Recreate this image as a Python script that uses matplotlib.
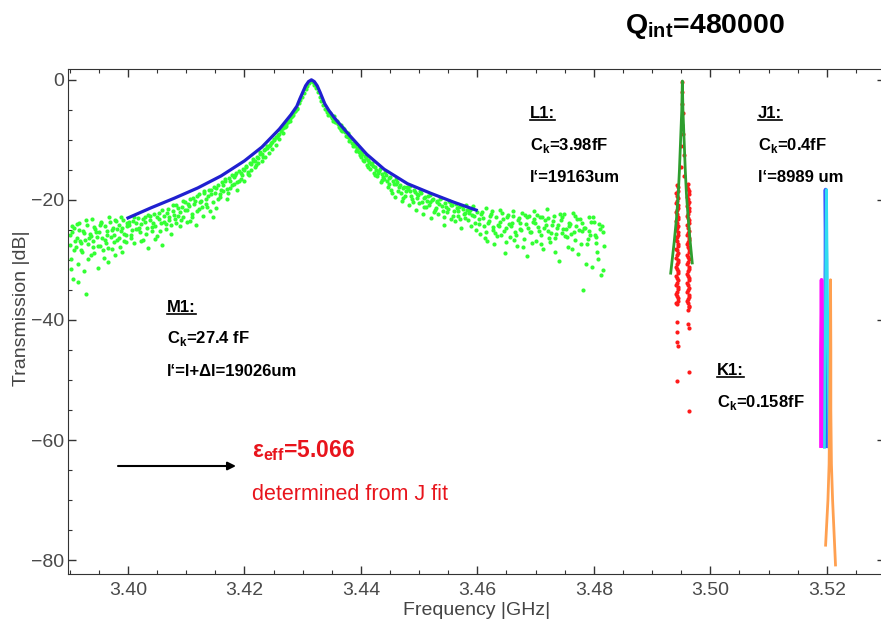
import numpy as np
import matplotlib.pyplot as plt
from matplotlib.lines import Line2D

plt.rcParams["font.family"] = ["Liberation Sans", "DejaVu Sans"]
plt.rcParams["mathtext.fontset"] = "custom"
plt.rcParams["mathtext.rm"] = "Liberation Sans"
plt.rcParams["mathtext.bf"] = "Liberation Sans:bold"

W, H = 881, 628

# M1 resonance: fit curve
m1_fit_freq = [3.400, 3.404, 3.408, 3.412, 3.416, 3.420, 3.423, 3.426, 3.428, 3.429, 3.4295,
               3.4300, 3.4305, 3.4310, 3.4315, 3.4320, 3.4325, 3.4330, 3.4338, 3.4345,
               3.4355, 3.438, 3.441, 3.444, 3.448, 3.452, 3.456, 3.4598]
m1_fit_db = [-23.0, -21.3, -19.7, -18.0, -16.0, -13.5, -11.2, -8.2, -5.8, -4.4, -3.2,
             -2.1, -1.0, -0.3, 0.0, -0.3, -1.0, -2.1, -4.0, -5.1,
             -6.4, -9.2, -12.4, -14.9, -17.3, -18.9, -20.4, -21.7]

m1_points = [
    (3.3900, -27.5), (3.3902, -29.8), (3.3904, -25.4), (3.3906, -33.2), (3.3908, -24.6),
    (3.3910, -27.9), (3.3912, -26.3), (3.3914, -30.6), (3.3916, -23.8), (3.3918, -26.9),
    (3.3920, -28.4), (3.3922, -25.1), (3.3924, -31.9), (3.3926, -26.6), (3.3928, -35.7),
    (3.3930, -24.2), (3.3932, -27.3), (3.3934, -25.7), (3.3936, -29.1), (3.3938, -23.1),
    (3.3940, -26.8), (3.3942, -28.9), (3.3944, -24.9), (3.3946, -26.1), (3.3948, -31.4),
    (3.3950, -25.3), (3.3952, -27.6), (3.3954, -23.6), (3.3956, -26.4), (3.3958, -29.7),
    (3.3960, -24.4), (3.3962, -27.1), (3.3964, -25.8), (3.3966, -30.3), (3.3968, -22.9),
    (3.3970, -26.2), (3.3972, -28.1), (3.3974, -24.7), (3.3976, -25.9), (3.3978, -29.2),
    (3.3980, -23.5), (3.3982, -26.7), (3.3984, -24.1), (3.3986, -27.8), (3.3988, -25.2),
    (3.3990, -28.6), (3.3992, -23.3), (3.3994, -25.6), (3.3996, -27.0), (3.3998, -24.3),
    (3.3903, -31.5), (3.3915, -33.6), (3.39005, -25.9), (3.39065, -28.3), (3.39125, -24.0),
    (3.39185, -27.2), (3.39245, -25.5), (3.39305, -29.9), (3.39365, -26.0), (3.39425, -24.5),
    (3.39485, -27.7), (3.39545, -23.9), (3.39605, -26.6), (3.39665, -28.0), (3.39725, -25.0),
    (3.39785, -23.4), (3.39845, -26.4), (3.39905, -24.6), (3.39965, -25.8),
    (3.39035, -24.3), (3.39095, -26.8), (3.39155, -25.0), (3.39215, -28.7), (3.39275, -23.4),
    (3.39335, -26.3), (3.39395, -27.9), (3.39455, -25.4), (3.39515, -24.1), (3.39575, -28.3),
    (3.39635, -25.2), (3.39695, -23.7), (3.39755, -27.0), (3.39815, -24.8), (3.39875, -22.8),
    (3.39935, -26.9), (3.39985, -23.9),
    (3.4002, -24.1), (3.4005, -25.9), (3.4008, -23.5), (3.4011, -27.2), (3.4014, -24.8),
    (3.4017, -23.0), (3.4020, -25.4), (3.4023, -24.0), (3.4026, -26.6), (3.4029, -22.9),
    (3.4032, -24.7), (3.4035, -28.0), (3.4038, -23.3), (3.4041, -25.1), (3.4044, -22.4),
    (3.4047, -24.3), (3.4050, -26.0), (3.4053, -22.2), (3.4056, -23.8), (3.4059, -27.5),
    (3.4062, -22.6), (3.4065, -24.9), (3.4068, -21.5), (3.4071, -23.4), (3.4074, -25.6),
    (3.4077, -21.9), (3.4080, -23.1), (3.4083, -20.8), (3.4086, -22.7), (3.4089, -24.4),
    (3.4092, -21.2), (3.4095, -22.9), (3.4098, -20.3), (3.4101, -23.7), (3.4104, -21.0),
    (3.4107, -19.9), (3.4110, -22.3), (3.4113, -20.6), (3.4116, -24.1), (3.4119, -19.4),
    (3.4122, -21.5), (3.4125, -20.1), (3.4128, -22.6), (3.4131, -18.9), (3.4134, -20.7),
    (3.4137, -19.3), (3.4140, -21.8), (3.4143, -18.4), (3.4146, -22.8), (3.4149, -18.8),
    (3.4152, -21.3), (3.4155, -17.6), (3.4158, -19.5), (3.4161, -17.0), (3.4164, -18.6),
    (3.4167, -16.8), (3.4170, -19.8), (3.4173, -16.4), (3.4176, -18.1), (3.4179, -15.9),
    (3.4182, -17.3), (3.4185, -15.6), (3.4188, -18.4), (3.4191, -15.2), (3.4194, -16.5),
    (3.4197, -14.9), (3.4200, -16.9), (3.4203, -14.3), (3.4206, -15.7), (3.4209, -13.9),
    (3.4212, -15.1), (3.4215, -13.2), (3.4218, -14.6), (3.4221, -12.8), (3.4224, -13.9),
    (3.4227, -12.3), (3.4230, -13.6), (3.4233, -11.7), (3.4236, -12.9), (3.4239, -11.1),
    (3.4242, -12.2), (3.4245, -10.6), (3.4248, -11.5), (3.4251, -10.0), (3.4254, -10.9),
    (3.4257, -9.2), (3.4260, -9.9), (3.4263, -8.6), (3.4266, -8.9), (3.4269, -7.8),
    (3.4272, -7.7), (3.4275, -7.0), (3.4278, -6.9), (3.4281, -6.1), (3.4284, -5.9),
    (3.4287, -5.2), (3.4290, -4.9),
    (3.40015, -23.6), (3.40075, -25.0), (3.40135, -23.9), (3.40195, -24.6), (3.40255, -23.2),
    (3.40315, -25.7), (3.40375, -22.7), (3.40435, -23.9), (3.40495, -22.8), (3.40555, -25.2),
    (3.40615, -23.6), (3.40675, -22.1), (3.40735, -24.2), (3.40795, -22.5), (3.40855, -21.4),
    (3.40915, -23.3), (3.40975, -21.7), (3.41035, -20.6), (3.41095, -22.8), (3.41155, -20.2),
    (3.41215, -19.0), (3.41275, -21.1), (3.41335, -19.8), (3.41395, -18.4), (3.41455, -20.4),
    (3.41515, -18.0), (3.41575, -19.0), (3.41635, -17.6), (3.41695, -18.2), (3.41755, -16.9),
    (3.41815, -16.2), (3.41875, -17.0), (3.41935, -15.6), (3.41995, -15.1), (3.42055, -15.3),
    (3.42115, -14.0), (3.42175, -13.5), (3.42235, -13.0), (3.42295, -12.4), (3.42355, -11.5),
    (3.42415, -11.0), (3.42475, -10.4), (3.42535, -9.6), (3.42595, -9.0), (3.42655, -8.1),
    (3.42715, -7.3), (3.42775, -6.4), (3.42835, -5.6), (3.42895, -4.7),
    (3.40045, -26.4), (3.40105, -22.8), (3.40165, -24.9), (3.40225, -26.9), (3.40285, -23.7),
    (3.40345, -22.5), (3.40405, -24.5), (3.40465, -26.5), (3.40525, -23.1), (3.40585, -21.6),
    (3.40645, -24.0), (3.40705, -22.9), (3.40765, -20.9), (3.40825, -23.8), (3.40885, -22.0),
    (3.40945, -20.1), (3.41005, -21.6), (3.41065, -23.5), (3.41125, -19.6), (3.41185, -21.9),
    (3.41245, -20.4), (3.41305, -18.6), (3.41365, -21.2), (3.41425, -19.1), (3.41485, -17.9),
    (3.41545, -19.9), (3.41605, -18.3), (3.41665, -16.6), (3.41725, -18.9), (3.41785, -17.6),
    (3.41845, -15.8), (3.41905, -16.8), (3.41965, -15.9), (3.42025, -14.5), (3.42085, -15.8),
    (3.42145, -13.6), (3.42205, -14.2), (3.42265, -12.1), (3.42325, -12.8), (3.42385, -11.4),
    (3.42445, -10.9), (3.42505, -9.8), (3.42565, -9.5), (3.42625, -8.4), (3.42685, -7.7),
    (3.42745, -6.8), (3.42805, -6.2), (3.42865, -5.2),
    (3.4293, -3.9), (3.4296, -3.4), (3.4299, -2.8), (3.4302, -2.2), (3.4305, -1.6),
    (3.4308, -1.0), (3.4311, -0.5), (3.4314, -0.2), (3.4317, -0.3), (3.4320, -0.8),
    (3.4323, -1.4), (3.4326, -2.1), (3.4329, -2.8), (3.4332, -3.5), (3.4335, -4.2),
    (3.4338, -4.9),
    (3.4341, -5.3), (3.4344, -5.9), (3.4347, -5.5), (3.4350, -6.4), (3.4353, -6.0),
    (3.4356, -7.1), (3.4359, -6.8), (3.4362, -7.9), (3.4365, -7.5), (3.4368, -8.6),
    (3.4371, -8.2), (3.4374, -9.4), (3.4377, -8.9), (3.4380, -10.2), (3.4383, -9.8),
    (3.4386, -11.0), (3.4389, -10.5), (3.4392, -11.9), (3.4395, -11.3), (3.4398, -12.6),
    (3.4401, -11.9), (3.4404, -13.3), (3.4407, -12.7), (3.4410, -14.2), (3.4413, -13.4),
    (3.4416, -14.8), (3.4419, -13.9), (3.4422, -15.6), (3.4425, -14.6), (3.4428, -16.0),
    (3.4431, -15.2), (3.4434, -17.1), (3.4437, -15.7), (3.4440, -16.6), (3.4443, -15.9),
    (3.4446, -17.8), (3.4449, -16.4), (3.4452, -18.3), (3.4455, -16.9), (3.4458, -19.5),
    (3.4461, -17.3), (3.4464, -18.6), (3.4467, -17.6), (3.4470, -20.2), (3.4473, -18.1),
    (3.4476, -19.4), (3.4479, -17.9), (3.4482, -20.9), (3.4485, -18.6), (3.4488, -19.8),
    (3.4491, -18.3), (3.4494, -21.6), (3.4497, -19.0), (3.4500, -20.5), (3.4503, -18.9),
    (3.4506, -22.4), (3.4509, -19.6), (3.4512, -21.1), (3.4515, -19.3), (3.4518, -20.4),
    (3.4521, -23.0), (3.4524, -19.9), (3.4527, -21.7), (3.4530, -20.1), (3.4533, -22.3),
    (3.4536, -19.8), (3.4539, -21.0), (3.4542, -24.1), (3.4545, -20.5), (3.4548, -22.0),
    (3.4551, -20.2), (3.4554, -23.1), (3.4557, -20.9), (3.4560, -21.8), (3.4563, -20.6),
    (3.4566, -22.7), (3.4569, -21.2), (3.4572, -24.6), (3.4575, -21.5), (3.4578, -22.1),
    (3.4581, -20.9), (3.4584, -23.4), (3.4587, -21.6), (3.4590, -22.5), (3.4593, -21.0),
    (3.4596, -23.8), (3.4599, -22.0),
    (3.43425, -5.0), (3.43485, -6.1), (3.43545, -6.6), (3.43605, -7.4), (3.43665, -8.3),
    (3.43725, -8.7), (3.43785, -9.6), (3.43845, -10.6), (3.43905, -11.1), (3.43965, -12.0),
    (3.44025, -12.4), (3.44085, -13.0), (3.44145, -13.7), (3.44205, -14.4), (3.44265, -15.1),
    (3.44325, -14.8), (3.44385, -16.2), (3.44445, -16.8), (3.44505, -16.2), (3.44565, -17.4),
    (3.44625, -17.0), (3.44685, -18.9), (3.44745, -17.8), (3.44805, -18.2), (3.44865, -19.4),
    (3.44925, -18.7), (3.44985, -19.2), (3.45045, -20.3), (3.45105, -19.5), (3.45165, -20.9),
    (3.45225, -20.0), (3.45285, -21.4), (3.45345, -20.6), (3.45405, -21.9), (3.45465, -21.2),
    (3.45525, -20.4), (3.45585, -22.6), (3.45645, -21.4), (3.45705, -23.2), (3.45765, -22.4),
    (3.45825, -21.7), (3.45885, -24.3), (3.45945, -22.6),
    (3.43455, -5.6), (3.43515, -6.9), (3.43575, -7.0), (3.43635, -8.1), (3.43695, -8.0),
    (3.43755, -9.3), (3.43815, -9.8), (3.43875, -10.9), (3.43935, -11.6), (3.43995, -12.9),
    (3.44055, -13.6), (3.44115, -14.5), (3.44175, -14.1), (3.44235, -15.9), (3.44295, -15.5),
    (3.44355, -16.7), (3.44415, -15.4), (3.44475, -17.3), (3.44535, -18.8), (3.44595, -16.6),
    (3.44655, -17.9), (3.44715, -19.6), (3.44775, -18.5), (3.44835, -17.7), (3.44895, -20.3),
    (3.44955, -19.6), (3.45015, -18.6), (3.45075, -21.2), (3.45135, -20.1), (3.45195, -19.2),
    (3.45255, -22.0), (3.45315, -20.3), (3.45375, -19.6), (3.45435, -22.8), (3.45495, -21.5),
    (3.45555, -20.8), (3.45615, -23.5), (3.45675, -21.9), (3.45735, -21.0), (3.45795, -23.0),
    (3.45855, -22.1), (3.45915, -21.3), (3.45975, -25.0),
    (3.4602, -23.1), (3.4605, -25.6), (3.4608, -22.0), (3.4611, -24.3), (3.4614, -21.4),
    (3.4617, -26.8), (3.4620, -23.5), (3.4623, -22.3), (3.4626, -25.0), (3.4629, -27.3),
    (3.4632, -22.8), (3.4635, -24.1), (3.4638, -21.6), (3.4641, -25.8), (3.4644, -23.2),
    (3.4647, -28.9), (3.4650, -24.6), (3.4653, -22.5), (3.4656, -26.2), (3.4659, -23.9),
    (3.4662, -21.8), (3.4665, -25.3), (3.4668, -27.6), (3.4671, -23.0), (3.4674, -24.8),
    (3.4677, -22.1), (3.4680, -26.5), (3.4683, -24.0), (3.4686, -29.4), (3.4689, -22.7),
    (3.4692, -25.4), (3.4695, -23.6), (3.4698, -21.9), (3.4701, -26.9), (3.4704, -24.5),
    (3.4707, -22.9), (3.4710, -25.9), (3.4713, -28.2), (3.4716, -23.3), (3.4719, -21.5),
    (3.4722, -25.1), (3.4725, -27.0), (3.4728, -24.2), (3.4731, -22.6), (3.4734, -26.3),
    (3.4737, -24.7), (3.4740, -30.1), (3.4743, -23.4), (3.4746, -25.5), (3.4749, -22.4),
    (3.4752, -24.9), (3.4755, -27.8), (3.4758, -23.8), (3.4761, -25.7), (3.4764, -22.2),
    (3.4767, -26.6), (3.4770, -24.4), (3.4773, -29.0), (3.4776, -23.1), (3.4779, -25.2),
    (3.4782, -35.0), (3.4785, -24.6), (3.4788, -27.4), (3.4791, -22.8), (3.4794, -25.8),
    (3.4797, -31.2), (3.4800, -23.7), (3.4803, -26.1), (3.4806, -28.6), (3.4809, -24.0),
    (3.4812, -32.5), (3.4815, -25.3), (3.4818, -27.7),
    (3.46035, -24.0), (3.46095, -23.0), (3.46155, -25.3), (3.46215, -22.6), (3.46275, -24.5),
    (3.46335, -26.0), (3.46395, -23.7), (3.46455, -25.1), (3.46515, -22.9), (3.46575, -24.3),
    (3.46635, -26.7), (3.46695, -23.4), (3.46755, -25.0), (3.46815, -22.5), (3.46875, -24.6),
    (3.46935, -27.1), (3.46995, -23.8), (3.47055, -25.2), (3.47115, -22.8), (3.47175, -24.1),
    (3.47235, -26.4), (3.47295, -23.5), (3.47355, -25.6), (3.47415, -22.3), (3.47475, -24.8),
    (3.47535, -26.2), (3.47595, -24.0), (3.47655, -25.4), (3.47715, -23.2), (3.47775, -27.3),
    (3.47835, -24.7), (3.47895, -26.5), (3.47955, -23.6), (3.48015, -25.9), (3.48075, -29.8),
    (3.48135, -24.4),
    (3.46065, -22.4), (3.46125, -26.3), (3.46185, -23.8), (3.46245, -21.9), (3.46305, -25.5),
    (3.46365, -24.4), (3.46425, -22.2), (3.46485, -27.0), (3.46545, -24.0), (3.46605, -22.6),
    (3.46665, -25.8), (3.46725, -23.9), (3.46785, -27.9), (3.46845, -22.9), (3.46905, -25.3),
    (3.46965, -23.1), (3.47025, -22.5), (3.47085, -27.4), (3.47145, -24.6), (3.47205, -23.0),
    (3.47265, -25.5), (3.47325, -28.6), (3.47385, -24.2), (3.47445, -22.9), (3.47505, -26.0),
    (3.47565, -24.3), (3.47625, -28.2), (3.47685, -22.6), (3.47745, -25.0), (3.47805, -23.9),
    (3.47865, -30.7), (3.47925, -25.1), (3.47985, -22.9), (3.48045, -27.2), (3.48105, -24.8),
    (3.48165, -31.6),
]
m1_freq, m1_db = np.array(m1_points).T

# L1 resonance: measured points and fit
l1_points = [
    (3.4952, -0.3), (3.4952, -2.0), (3.4951, -4.0), (3.4953, -5.5), (3.4951, -7.5),
    (3.4953, -9.0), (3.4950, -11.0), (3.4954, -12.5), (3.4949, -14.5), (3.4955, -16.0),
    (3.4943, -17.6), (3.4944, -18.5), (3.4942, -19.3), (3.4943, -20.1), (3.4944, -20.8),
    (3.4942, -21.6), (3.4943, -22.4), (3.4944, -23.1), (3.4942, -23.9), (3.4943, -24.6),
    (3.4944, -25.4), (3.4942, -26.2), (3.4943, -26.9), (3.4944, -27.7), (3.4942, -28.4),
    (3.4943, -29.2), (3.4944, -30.0), (3.4942, -30.7), (3.4943, -31.5), (3.4944, -32.2),
    (3.4942, -33.0), (3.4943, -33.8), (3.4944, -34.5), (3.4942, -35.3), (3.4943, -36.0),
    (3.4944, -36.8), (3.4943, -37.4), (3.4942, -40.3), (3.4943, -42.0), (3.4943, -43.6),
    (3.4944, -44.3), (3.4942, -50.2),
    (3.4945, -17.9), (3.4941, -18.8), (3.4945, -19.7), (3.4941, -20.5), (3.4945, -21.3),
    (3.4941, -22.0), (3.4945, -22.8), (3.4941, -23.5), (3.4945, -24.3), (3.4941, -25.0),
    (3.4945, -25.8), (3.4941, -26.6), (3.4945, -27.3), (3.4941, -28.1), (3.4945, -28.8),
    (3.4941, -29.6), (3.4945, -30.4), (3.4941, -31.1), (3.4945, -31.9), (3.4941, -32.6),
    (3.4945, -33.4), (3.4941, -34.2), (3.4945, -34.9), (3.4941, -35.7), (3.4945, -36.4),
    (3.4941, -37.1),
    (3.4962, -17.4), (3.4961, -18.2), (3.4963, -19.0), (3.4962, -19.9), (3.4961, -20.7),
    (3.4963, -21.4), (3.4962, -22.3), (3.4961, -23.0), (3.4963, -23.8), (3.4962, -24.7),
    (3.4961, -25.5), (3.4963, -26.3), (3.4962, -27.0), (3.4961, -27.8), (3.4963, -28.7),
    (3.4962, -29.5), (3.4961, -30.3), (3.4963, -31.1), (3.4962, -31.9), (3.4961, -32.6),
    (3.4963, -33.4), (3.4962, -34.2), (3.4961, -35.0), (3.4963, -35.8), (3.4962, -36.5),
    (3.4961, -37.2), (3.4963, -37.9), (3.4962, -40.6), (3.4963, -41.4), (3.4963, -48.6),
    (3.4963, -55.2),
    (3.4960, -17.8), (3.4964, -18.6), (3.4960, -19.5), (3.4964, -20.3), (3.4960, -21.0),
    (3.4964, -21.8), (3.4960, -22.7), (3.4964, -23.4), (3.4960, -24.2), (3.4964, -25.1),
    (3.4960, -25.9), (3.4964, -26.7), (3.4960, -27.4), (3.4964, -28.2), (3.4960, -29.1),
    (3.4964, -29.9), (3.4960, -30.7), (3.4964, -31.5), (3.4960, -32.3), (3.4964, -33.0),
    (3.4960, -33.8), (3.4964, -34.6), (3.4960, -35.4), (3.4964, -36.2), (3.4960, -36.9),
    (3.4964, -37.6), (3.4961, -38.3),
]
l1_freq, l1_db = np.array(l1_points).T

l1_fit_freq = [3.4932, 3.4938, 3.4942, 3.4945, 3.4947, 3.4949, 3.4951, 3.4952,
               3.4953, 3.4955, 3.4957, 3.4959, 3.4962, 3.4965, 3.4969]
l1_fit_db = [-32.2, -27.0, -23.0, -19.0, -15.0, -10.0, -5.0, -0.2,
             -5.0, -10.0, -15.0, -19.0, -23.0, -26.5, -30.5]

# J1 and K1 resonances (data and fits)
j1_data_freq = [3.5197, 3.5197, 3.5198, 3.5198, 3.5199, 3.5199, 3.5200]
j1_data_db = [-61.0, -45.0, -30.0, -18.3, -30.0, -45.0, -61.0]
j1_fit_freq = [3.5196, 3.5198, 3.51995, 3.5201, 3.5204]
j1_fit_db = [-61.2, -35.0, -18.3, -35.0, -61.2]
k1_data_freq = [3.5190, 3.5190, 3.5191, 3.5192, 3.5192]
k1_data_db = [-61.0, -45.0, -33.3, -45.0, -61.0]
k1_fit_freq = [3.5198, 3.5202, 3.5204, 3.5205, 3.5206, 3.52065,
               3.5207, 3.5207, 3.5208, 3.5210, 3.5215]
k1_fit_db = [-77.5, -70.0, -64.0, -55.0, -45.0, -33.3,
             -45.0, -55.0, -64.0, -70.0, -80.8]

x_ticks = [3.40, 3.42, 3.44, 3.46, 3.48, 3.50, 3.52]
y_ticks = [0, -20, -40, -60, -80]

fig = plt.figure(figsize=(W / 100, H / 100), dpi=100)
ax = fig.add_axes([68 / W, 1 - 574 / H, 817 / W, 505 / H])

ax.plot(m1_freq, m1_db, "o", color="#33ff33", ms=3.0, mew=0, zorder=2)
ax.plot(m1_fit_freq, m1_fit_db, color="#2020d0", lw=2.3, zorder=3)
ax.plot(l1_freq, l1_db, "o", color="#ff1a1a", ms=3.0, mew=0, zorder=2)
ax.plot(l1_fit_freq, l1_fit_db, color="#2e9e2e", lw=2.0, zorder=3)
ax.plot(j1_data_freq, j1_data_db, color="#3a5aff", lw=2.8, zorder=2)
ax.plot(k1_data_freq, k1_data_db, color="#ff10ff", lw=2.6, zorder=3)
ax.plot(j1_fit_freq, j1_fit_db, color="#30dcf0", lw=2.0, zorder=4)
ax.plot(k1_fit_freq, k1_fit_db, color="#ffa050", lw=2.0, zorder=5)

ax.set_xlim(3.3897, 3.52975)
ax.set_ylim(-82.3, 1.8)
ax.set_xticks(x_ticks)
ax.set_xticklabels([f"{v:.2f}" for v in x_ticks])
ax.set_yticks(y_ticks)
ax.set_xticks(np.arange(3.39, 3.531, 0.005), minor=True)
ax.set_yticks(np.arange(-80, 1, 5), minor=True)
ax.tick_params(which="both", direction="in", top=True, right=True,
               colors="#333333", labelcolor="#4a4a4a", labelsize=14)
ax.tick_params(which="major", length=6, width=1)
ax.tick_params(which="minor", length=3, width=0.8)
ax.tick_params(axis="x", pad=6)
ax.tick_params(axis="y", pad=3)
for s in ax.spines.values():
    s.set_color("#333333")

ax.set_xlabel("Frequency |GHz|", fontsize=14, color="#444444")
ax.set_ylabel("Transmission |dB|", fontsize=14, color="#444444")
ax.xaxis.set_label_coords(0.5, -0.056)
ax.yaxis.set_label_coords(-0.046, 0.527)


def fpos(x, y):
    return x / W, 1 - y / H


def note(x, y, s, **kw):
    kw.setdefault("fontsize", 12)
    kw.setdefault("fontweight", "bold")
    kw.setdefault("color", "black")
    return fig.text(*fpos(x, y), s, ha="left", va="baseline", **kw)


heads = [note(530, 118, "L1:"), note(758, 118, "J1:"),
         note(167, 312, "M1:"), note(717, 375, "K1:")]
note(530, 150, r"C$_\mathbf{k}$=3.98fF")
note(530, 182, "l‘=19163um")
note(758, 150, r"C$_\mathbf{k}$=0.4fF")
note(758, 182, "l‘=8989 um")
note(167, 343, r"C$_\mathbf{k}$=27.4 fF")
note(167, 376, "l‘=l+Δl=19026um")
note(717, 407, r"C$_\mathbf{k}$=0.158fF")
note(625, 33, r"Q$_\mathbf{int}$=480000", fontsize=20.5)
note(252, 457, r"ε$_\mathbf{eff}$=5.066", fontsize=16.5, color="#e8141c")
note(252, 500, "determined from J fit", fontsize=15.5, fontweight="normal", color="#e8141c")

fig.add_artist(plt.Annotation("", xy=fpos(236, 466), xytext=fpos(118, 466),
                              xycoords="figure fraction", textcoords="figure fraction",
                              arrowprops=dict(arrowstyle="-|>", color="black", lw=1.5,
                                              mutation_scale=12, shrinkA=0, shrinkB=0)))

# underline the resonator names
fig.canvas.draw()
inv = fig.transFigure.inverted()
for t in heads:
    bb = t.get_window_extent()
    (x0, y0), (x1, _) = inv.transform([(bb.x0, bb.y0 + 1), (bb.x1, bb.y0 + 1)])
    fig.add_artist(Line2D([x0, x1], [y0, y0], color="black", lw=1.2))

fig.savefig("out.png", dpi=100)
